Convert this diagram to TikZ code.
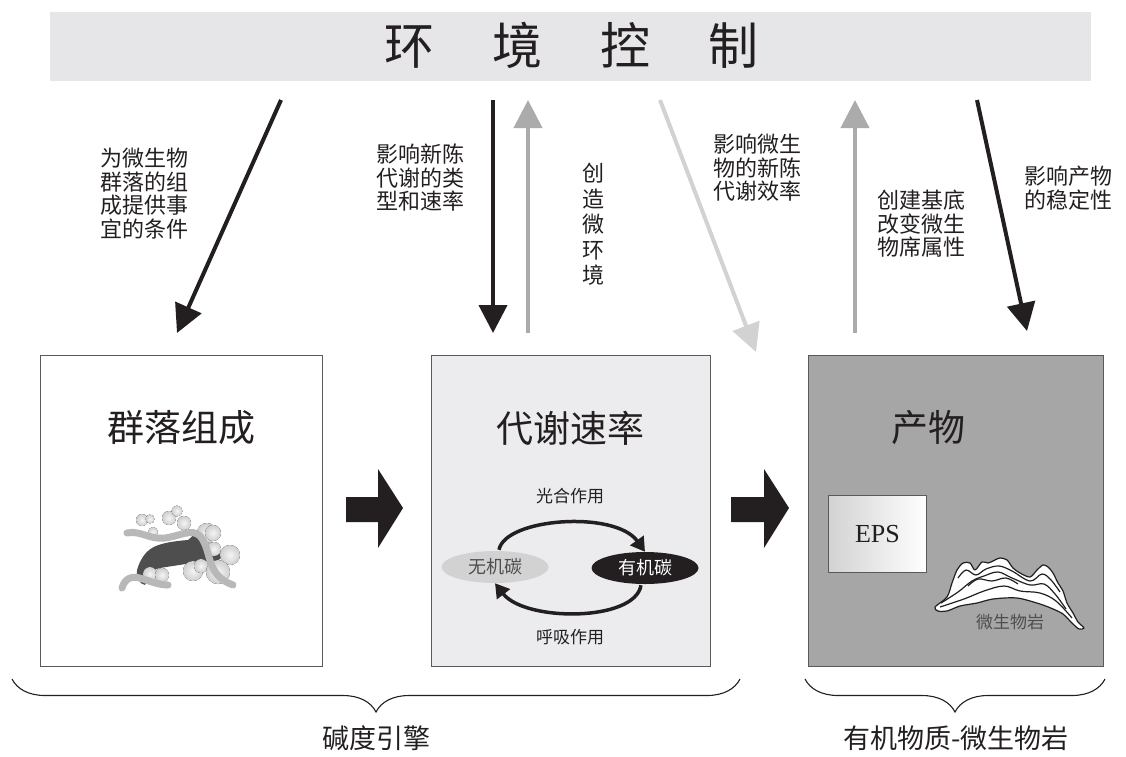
\documentclass[tikz,border=0pt]{standalone}
\usepackage{fontspec}
\setmainfont{Liberation Serif}
\newfontfamily\cjk{Noto Sans CJK SC}
\usetikzlibrary{arrows.meta,shapes.geometric,decorations.pathreplacing}
\definecolor{txt}{HTML}{231F20}
\definecolor{banner}{HTML}{E6E6E8}
\definecolor{boxtwo}{HTML}{ECECEE}
\definecolor{boxthree}{HTML}{A6A6A6}
\definecolor{frame}{HTML}{5A5A5A}
\definecolor{upgray}{HTML}{ABABAB}
\definecolor{pale}{HTML}{D2D2D2}
\definecolor{worm}{HTML}{B8B8B8}
\definecolor{core}{HTML}{4E4E4E}
\tikzset{
  lbl/.style={font=\cjk\fontsize{22}{23.5}\selectfont, align=left, inner sep=0pt, text=txt},
  ttl/.style={font=\cjk\fontsize{37}{40}\selectfont, inner sep=0pt, text=txt},
  stage/.style={draw=frame, line width=1.3pt, minimum width=#1, minimum height=311pt, inner sep=0pt, anchor=north west},
  thin/.style={line width=4pt},
  ball/.style={inner color=gray!8, outer color=gray!38, draw=none},
  wormline/.style={draw=worm, line width=7pt, line cap=round, line join=round},
  carbon/.style={ellipse, minimum width=107pt, minimum height=32pt, inner sep=0pt, font=\cjk\fontsize{18}{20}\selectfont},
  cyc/.style={line width=3.5pt, draw=txt, -{Triangle[length=14pt,width=16pt]}},
  brc/.style={decorate, decoration={brace, mirror, amplitude=33pt}, line width=1.1pt, draw=txt},
  strata/.style={draw=txt, line width=1.2pt},
}
\begin{document}
\begin{tikzpicture}[x=1pt,y=-1pt]
\useasboundingbox (0,0) rectangle (1126,756);

% environment banner
\fill[banner] (50,12) rectangle (1091,81);
\node[font=\cjk\fontsize{50}{52}\selectfont, text=txt, inner sep=0pt] (env) at (571,45)
  {环\hspace{58pt}境\hspace{58pt}控\hspace{58pt}制};

% the three stages
\node[stage=282pt, fill=white] (comm) at (40,355) {};
\node[stage=279pt, fill=boxtwo] (rate) at (431,355) {};
\node[stage=295pt, fill=boxthree] (prod) at (808,355) {};

\node[ttl] (commT) at (181,428) {群落组成};
\node[ttl] (rateT) at (570,428) {代谢速率};
\node[ttl] (prodT) at (928,428) {产物};

% block arrows between stages
\fill[txt] (346,497) -- (378,497) -- (378,469) -- (403,508) -- (378,548) -- (378,522) -- (346,522) -- cycle;
\fill[txt] (731,497) -- (764,497) -- (764,469) -- (789,508) -- (764,548) -- (764,522) -- (731,522) -- cycle;

% control arrows
\coordinate (a1s) at (281,100); \coordinate (a1e) at (177,333);
\coordinate (a2s) at (493,100); \coordinate (a2e) at (493,333);
\coordinate (a3s) at (528,333); \coordinate (a3e) at (528,100);
\coordinate (a4s) at (660,100); \coordinate (a4e) at (756,352);
\coordinate (a5s) at (855,333); \coordinate (a5e) at (855,100);
\coordinate (a6s) at (977,100); \coordinate (a6e) at (1027,331);
\draw[thin, draw=txt, -{Triangle[length=28pt,width=28pt,fill=txt]}] (a1s) -- (a1e);
\draw[thin, draw=txt, -{Triangle[length=28pt,width=28pt,fill=txt]}] (a2s) -- (a2e);
\draw[thin, draw=upgray, -{Triangle[length=28pt,width=28pt,fill=upgray]}] (a3s) -- (a3e);
\draw[thin, draw=pale, -{Triangle[length=28pt,width=28pt,fill=pale]}] (a4s) -- (a4e);
\draw[thin, draw=upgray, -{Triangle[length=28pt,width=28pt,fill=upgray]}] (a5s) -- (a5e);
\draw[thin, draw=txt, -{Triangle[length=28pt,width=28pt,fill=txt]}] (a6s) -- (a6e);

\node[lbl, anchor=north west] (l1) at (100,148) {为微生物\\群落的组\\成提供事\\宜的条件};
\node[lbl, anchor=north west] (l2) at (376,144) {影响新陈\\代谢的类\\型和速率};
\node[lbl, anchor=north west, font=\cjk\fontsize{22}{25.5}\selectfont] (l3) at (582,163) {创\\造\\微\\环\\境};
\node[lbl, anchor=north west] (l4) at (713,134) {影响微生\\物的新陈\\代谢效率};
\node[lbl, anchor=north west] (l5) at (877,190) {创建基底\\改变微生\\物席属性};
\node[lbl, anchor=north west] (l6) at (1024,166) {影响产物\\的稳定性};

% microbial community sketch
\fill[core] (137,570) .. controls (140,560) and (145,552) .. (152,548)
  .. controls (160,543) and (175,541) .. (188,540)
  .. controls (192,537) and (195,533) .. (198,530)
  .. controls (206,538) and (210,550) .. (222,555)
  .. controls (222,562) and (210,562) .. (200,561)
  .. controls (188,564) and (172,566) .. (160,568)
  .. controls (150,570) and (148,578) .. (145,585)
  .. controls (139,584) and (136,577) .. (137,570) -- cycle;
\foreach \x/\y/\r in {142/520/6, 150/519/4.5, 169/518/7, 177/511/5.5, 184/523/7,
  153/532/5, 207/533/10, 214/549/7, 230/555/10, 193/571/10, 201/566/7,
  218/572/12, 150/574/7, 162/575/7, 213/533/8}
  \fill[ball] (\x,\y) circle (\r);
\draw[wormline] (127,533) .. controls (140,530) and (150,540) .. (165,538)
  .. controls (180,536) and (192,528) .. (200,536)
  .. controls (208,545) and (208,560) .. (214,570)
  .. controls (220,580) and (228,583) .. (233,585);
\draw[wormline] (122,588) .. controls (125,578) and (132,575) .. (143,579)
  .. controls (152,582) and (160,585) .. (168,585);

% carbon cycle
\node[carbon, fill=pale, text=core] (ic) at (495,567) {无机碳};
\node[carbon, fill=txt, text=white] (oc) at (645,568) {有机碳};
\draw[cyc] (ic.north) ++(4,-1) .. controls (505,518) and (615,510) .. (oc.north);
\draw[cyc] (oc.south) ++(-4,1) .. controls (635,622) and (525,622) .. (ic.south);
\node[font=\cjk\fontsize{17}{19}\selectfont, text=txt, inner sep=0pt] (ps) at (570,496) {光合作用};
\node[font=\cjk\fontsize{17}{19}\selectfont, text=txt, inner sep=0pt] (rs) at (570,637) {呼吸作用};

% EPS
\node[draw=frame, line width=1pt, left color=gray!35, right color=white, minimum width=98pt,
  minimum height=77pt, anchor=north west, inner sep=0pt, font=\fontsize{26}{28}\selectfont, text=txt]
  (eps) at (828,495) {EPS};

% microbialite
\draw[fill=white, draw=txt, line width=1.2pt, line join=round]
  plot[smooth cycle, tension=0.5] coordinates {
  (935,607) (947,597) (952,583) (957,570) (963,563) (970,563) (975,570) (982,562)
  (988,563) (993,561) (1000,558) (1007,560) (1013,568) (1020,573) (1030,577)
  (1037,570) (1043,565) (1048,567) (1053,573) (1058,583) (1063,591) (1067,603)
  (1073,613) (1078,622) (1084,628) (1079,629) (1072,623) (1063,614) (1053,609)
  (1040,604) (1017,598) (993,599) (977,603) (960,606) (947,611) (938,611)};
\draw[strata] plot[smooth, tension=0.6] coordinates {
  (941,603) (958,592) (972,581) (984,576) (998,572) (1012,578) (1030,585) (1044,584) (1055,594) (1066,609)};
\draw[strata] plot[smooth, tension=0.6] coordinates {
  (940,607) (964,599) (984,591) (1004,586) (1020,591) (1040,593) (1056,601) (1072,618)};
\draw[strata] plot[smooth, tension=0.6] coordinates {
  (958,578) (966,570) (976,575) (986,569) (999,566) (1012,571) (1030,581) (1042,574) (1051,580) (1060,592)};
\draw[strata] plot[smooth, tension=0.6] coordinates {
  (968,586) (978,579) (992,581) (1006,578) (1018,584)};
\node[font=\cjk\fontsize{17}{19}\selectfont, text=core, inner sep=0pt] (mt) at (1010,622) {微生物岩};

% braces and group names
\coordinate (b1l) at (12,679); \coordinate (b1r) at (740,679);
\coordinate (b2l) at (805,679); \coordinate (b2r) at (1105,679);
\draw[brc] (b1l) -- (b1r);
\draw[brc] (b2l) -- (b2r);
\node[font=\cjk\fontsize{27}{29}\selectfont, text=txt, inner sep=0pt] (g1) at (376,738) {碱度引擎};
\node[font=\cjk\fontsize{27}{29}\selectfont, text=txt, inner sep=0pt] (g2) at (956,738) {有机物质-微生物岩};
\end{tikzpicture}
\end{document}
